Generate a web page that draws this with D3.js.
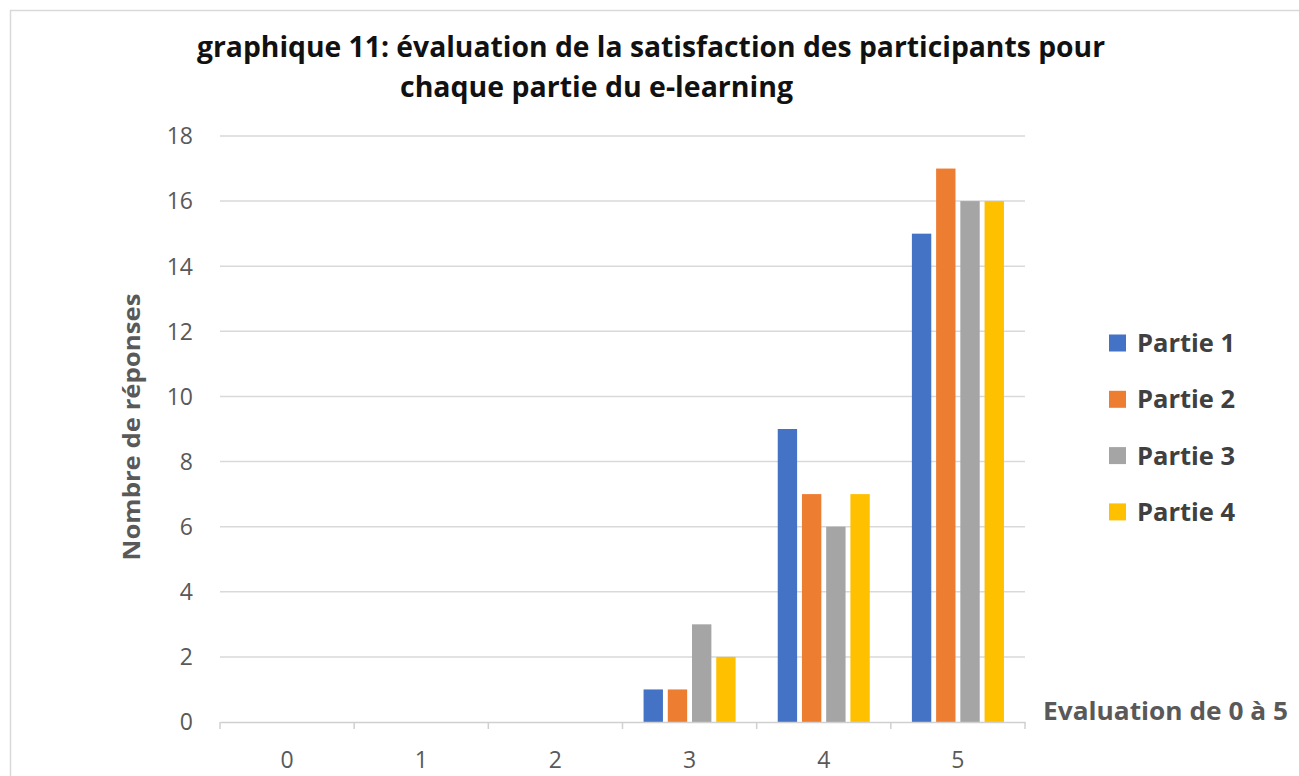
<!DOCTYPE html>
<html>
<head>
<meta charset="utf-8">
<script src="https://cdn.jsdelivr.net/npm/d3@7"></script>
<style>
  body { margin: 0; background: #fff; }
  text { font-family: "Open Sans", "DejaVu Sans", sans-serif; }
</style>
</head>
<body>
<div id="chart"></div>
<script>
// values
var categories = ["0", "1", "2", "3", "4", "5"];
var seriesNames = ["Partie 1", "Partie 2", "Partie 3", "Partie 4"];
var partie1 = [0, 0, 0, 1, 9, 15];
var partie2 = [0, 0, 0, 1, 7, 17];
var partie3 = [0, 0, 0, 3, 6, 16];
var partie4 = [0, 0, 0, 2, 7, 16];
var yTicks = [0, 2, 4, 6, 8, 10, 12, 14, 16, 18];
var colors = ["#4472C4", "#ED7D31", "#A5A5A5", "#FFC000"];

var allSeries = [partie1, partie2, partie3, partie4];

function drawChart(element) {
    var width = 1299, height = 776;

    var svg = d3.select(element)
        .append("svg")
        .attr("width", width)
        .attr("height", height);

    // outer frame (only top and left edges visible)
    svg.append("rect")
        .attr("x", 10.5).attr("y", 10.5)
        .attr("width", 1300).attr("height", 800)
        .attr("fill", "none")
        .attr("stroke", "#d9d9d9")
        .attr("stroke-width", 1.5);

    var x0 = d3.scaleBand()
        .domain(categories)
        .range([220, 1025]);

    var bw = x0.bandwidth();
    var x1 = d3.scaleBand()
        .domain(seriesNames)
        .range([bw * 0.157, bw * 0.843])
        .paddingInner(0.2);

    var y = d3.scaleLinear()
        .domain([0, 18])
        .range([722, 136]);

    // gridlines
    svg.append("g")
        .selectAll("line")
        .data(yTicks.filter(function (d) { return d > 0; }))
        .enter()
        .append("line")
        .attr("x1", 220).attr("x2", 1025)
        .attr("y1", function (d) { return y(d); })
        .attr("y2", function (d) { return y(d); })
        .attr("stroke", "#d9d9d9")
        .attr("stroke-width", 1.5);

    // y tick labels
    svg.append("g")
        .selectAll("text")
        .data(yTicks)
        .enter()
        .append("text")
        .attr("x", 193)
        .attr("y", function (d) { return y(d); })
        .attr("dy", "0.36em")
        .attr("text-anchor", "end")
        .attr("font-size", 23)
        .attr("fill", "#595959")
        .text(function (d) { return d; });

    // bars
    var groups = svg.append("g")
        .selectAll("g")
        .data(seriesNames)
        .enter()
        .append("g")
        .attr("fill", function (d, i) { return colors[i]; });

    groups.selectAll("rect")
        .data(function (s, i) {
            return allSeries[i].map(function (v, j) {
                return { series: s, cat: categories[j], value: v };
            });
        })
        .enter()
        .append("rect")
        .attr("x", function (d) { return x0(d.cat) + x1(d.series); })
        .attr("width", x1.bandwidth())
        .attr("y", function (d) { return y(d.value); })
        .attr("height", function (d) { return y(0) - y(d.value); });

    // x axis
    var xAxis = d3.axisBottom(x0)
        .tickSize(0)
        .tickPadding(30);

    var gx = svg.append("g")
        .attr("transform", "translate(0," + y(0) + ")")
        .call(xAxis);
    gx.select(".domain").attr("stroke", "#d0d0d0").attr("stroke-width", 1.5);
    gx.selectAll("text")
        .attr("font-size", 23)
        .attr("fill", "#595959")
        .attr("font-family", "\"Open Sans\", sans-serif");

    // category boundary ticks
    var bounds = categories.map(function (c) { return x0(c); }).concat([x0.range()[1]]);
    gx.selectAll(".bound")
        .data(bounds)
        .enter()
        .append("line")
        .attr("class", "bound")
        .attr("x1", function (d) { return d; })
        .attr("x2", function (d) { return d; })
        .attr("y1", 0).attr("y2", 7)
        .attr("stroke", "#d0d0d0")
        .attr("stroke-width", 1.5);

    // title
    var title = svg.append("g")
        .attr("font-weight", "bold")
        .attr("font-size", 28.5)
        .attr("fill", "#111");
    title.append("text")
        .attr("x", 197).attr("y", 57)
        .attr("textLength", 908)
        .attr("lengthAdjust", "spacingAndGlyphs")
        .text("graphique 11: évaluation de la satisfaction des participants pour");
    title.append("text")
        .attr("x", 400).attr("y", 97)
        .attr("textLength", 393)
        .attr("lengthAdjust", "spacingAndGlyphs")
        .text("chaque partie du e-learning");

    // y axis title
    svg.append("text")
        .attr("transform", "translate(140,427) rotate(-90)")
        .attr("text-anchor", "middle")
        .attr("font-size", 24)
        .attr("font-weight", "bold")
        .attr("fill", "#595959")
        .attr("textLength", 267)
        .attr("lengthAdjust", "spacingAndGlyphs")
        .text("Nombre de réponses");

    // x axis title
    svg.append("text")
        .attr("x", 1043).attr("y", 720)
        .attr("font-size", 25)
        .attr("font-weight", "bold")
        .attr("fill", "#595959")
        .attr("textLength", 245)
        .attr("lengthAdjust", "spacingAndGlyphs")
        .text("Evaluation de 0 à 5");

    // legend
    var legend = svg.append("g")
        .selectAll("g")
        .data(seriesNames)
        .enter()
        .append("g")
        .attr("transform", function (d, i) {
            return "translate(1109," + (343 + i * 56.3) + ")";
        });

    legend.append("rect")
        .attr("x", 0).attr("y", -8.5)
        .attr("width", 17).attr("height", 17)
        .attr("fill", function (d, i) { return colors[i]; });

    legend.append("text")
        .attr("x", 28)
        .attr("dy", "0.36em")
        .attr("font-size", 25.5)
        .attr("font-weight", "bold")
        .attr("fill", "#404040")
        .text(function (d) { return d; });
}

drawChart(document.getElementById("chart"));
</script>
</body>
</html>
